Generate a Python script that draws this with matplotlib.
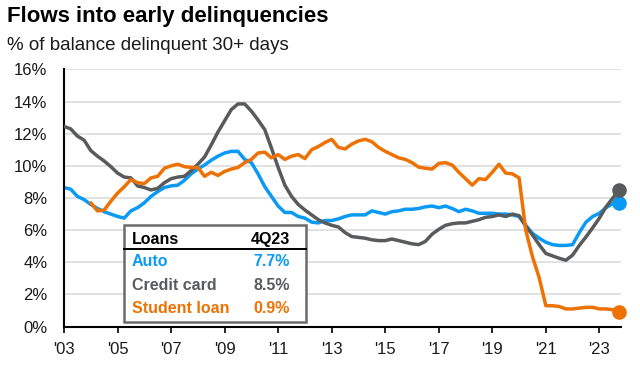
import numpy as np
import matplotlib
matplotlib.use('Agg')
import matplotlib.pyplot as plt
from matplotlib.patches import Rectangle

plt.rcParams['font.family'] = ['Liberation Sans', 'DejaVu Sans']

# quarterly data, 1Q03 .. 4Q23
quarters = 2003 + np.arange(84) * 0.25

auto = [8.65, 8.55, 8.1, 7.9,
        7.6, 7.35, 7.15, 7.0,
        6.85, 6.75, 7.2, 7.4,
        7.7, 8.1, 8.4, 8.65,
        8.75, 8.8, 9.1, 9.5,
        9.8, 10.05, 10.35, 10.6,
        10.8, 10.9, 10.9, 10.4,
        10.2, 9.5, 8.7, 8.1,
        7.5, 7.1, 7.1, 6.85,
        6.75, 6.5, 6.45, 6.6,
        6.6, 6.7, 6.85, 6.95,
        6.95, 6.95, 7.2, 7.1,
        7.0, 7.15, 7.2, 7.3,
        7.3, 7.35, 7.45, 7.5,
        7.4, 7.5, 7.35, 7.15,
        7.3, 7.2, 7.05, 7.05,
        7.05, 7.0, 7.0, 6.95,
        6.85, 6.3, 5.8, 5.5,
        5.25, 5.1, 5.05, 5.05,
        5.1, 5.85, 6.5, 6.85,
        7.05, 7.4, 7.65, 7.7]

credit_card = [12.45, 12.3, 11.85, 11.6,
               10.95, 10.6, 10.3, 9.95,
               9.55, 9.3, 9.25, 8.75,
               8.65, 8.5, 8.6, 8.95,
               9.2, 9.3, 9.35, 9.7,
               10.1, 10.55, 11.3, 12.1,
               12.8, 13.5, 13.85, 13.85,
               13.4, 12.85, 12.25, 11.1,
               9.9, 8.8, 8.1, 7.6,
               7.25, 6.95, 6.65, 6.45,
               6.3, 6.2, 5.85, 5.6,
               5.55, 5.5, 5.4, 5.35,
               5.35, 5.45, 5.35, 5.25,
               5.15, 5.1, 5.3, 5.75,
               6.05, 6.3, 6.4, 6.45,
               6.45, 6.55, 6.65, 6.8,
               6.85, 6.95, 6.85, 7.0,
               6.9, 6.25, 5.7, 5.1,
               4.55, 4.4, 4.25, 4.13,
               4.45, 5.05, 5.58, 6.15,
               6.75, 7.45, 8.0, 8.5]

student_loan = [np.nan, np.nan, np.nan, np.nan,
                7.7, 7.2, 7.25, 7.8,
                8.3, 8.7, 9.15, 8.95,
                8.9, 9.25, 9.35, 9.85,
                10.0, 10.1, 9.95, 9.9,
                9.9, 9.35, 9.6, 9.4,
                9.65, 9.8, 9.9, 10.2,
                10.4, 10.8, 10.85, 10.5,
                10.7, 10.4, 10.6, 10.7,
                10.45, 11.0, 11.2, 11.45,
                11.65, 11.15, 11.05, 11.35,
                11.55, 11.65, 11.5, 11.15,
                10.9, 10.7, 10.5, 10.4,
                10.2, 9.92, 9.85, 9.8,
                10.15, 10.2, 10.05, 9.6,
                9.2, 8.8, 9.2, 9.15,
                9.6, 10.1, 9.55, 9.5,
                9.25, 6.0, 4.35, 3.05,
                1.3, 1.3, 1.25, 1.1,
                1.1, 1.15, 1.2, 1.2,
                1.1, 1.1, 1.05, 0.9]

names = ['Auto', 'Credit card', 'Student loan']
latest = ['7.7%', '8.5%', '0.9%']
colors = ['#0a9af5', '#585a5c', '#ee7203']
series = [auto, credit_card, student_loan]

year_ticks = list(range(2003, 2024, 2))
year_labels = ["'%02d" % (y % 100) for y in year_ticks]

fig = plt.figure(figsize=(6.4, 3.67), dpi=100)
ax = fig.add_axes([0.1, 0.110, 0.870, 0.701])

for i, (vals, c) in enumerate(zip(series, colors)):
    ax.plot(quarters, vals, color=c, lw=2.5, zorder=2 + i, solid_capstyle='round')
    ax.plot(quarters[-1], vals[-1], 'o', color=c, ms=9.5, zorder=2 + i, clip_on=False)

ax.set_xlim(2003, 2023.8)
ax.set_ylim(0, 16)
ax.set_yticks(range(0, 17, 2))
ax.set_yticklabels(['%d%%' % v for v in range(0, 17, 2)])
ax.set_xticks(year_ticks)
ax.set_xticklabels(year_labels)
ax.grid(axis='y', color='#d9d9d9', lw=1.1, zorder=0)
ax.set_axisbelow(True)
for s in ['top', 'right']:
    ax.spines[s].set_visible(False)
for s in ['left', 'bottom']:
    ax.spines[s].set_color('black')
    ax.spines[s].set_linewidth(1.5)
ax.tick_params(axis='y', length=0, pad=12, labelsize=12, colors='#1a1a1a')
ax.tick_params(axis='x', length=4, width=1.2, direction='out', pad=7, labelsize=12,
               colors='black', labelcolor='#1a1a1a')

# table box
bx0, bx1, by0, by1 = 0.1077, 0.4345, 0.0175, 0.395
ax.add_patch(Rectangle((bx0, by0), bx1 - bx0, by1 - by0, transform=ax.transAxes,
                       facecolor='white', edgecolor='#6b6b6b', lw=1.8, zorder=10))
ax.plot([bx0, bx1], [0.300, 0.300], color='black', lw=1.4, transform=ax.transAxes, zorder=11)
ax.text(0.1215, 0.340, 'Loans', transform=ax.transAxes, fontsize=11.5, fontweight='bold',
        color='black', va='center', ha='left', zorder=12)
ax.text(0.4057, 0.340, '4Q23', transform=ax.transAxes, fontsize=11.5, fontweight='bold',
        color='black', va='center', ha='right', zorder=12)
for n, v, c, yy in zip(names, latest, colors, [0.252, 0.161, 0.071]):
    ax.text(0.1215, yy, n, transform=ax.transAxes, fontsize=11.5, fontweight='bold',
            color=c, va='center', ha='left', zorder=12)
    ax.text(0.4057, yy, v, transform=ax.transAxes, fontsize=11.5, fontweight='bold',
            color=c, va='center', ha='right', zorder=12)

fig.text(0.011, 0.955, 'Flows into early delinquencies', fontsize=16, fontweight='bold',
         color='black', va='center', ha='left')
fig.text(0.011, 0.877, '% of balance delinquent 30+ days', fontsize=13.5,
         color='#1a1a1a', va='center', ha='left')

fig.savefig('out.png', dpi=100)
